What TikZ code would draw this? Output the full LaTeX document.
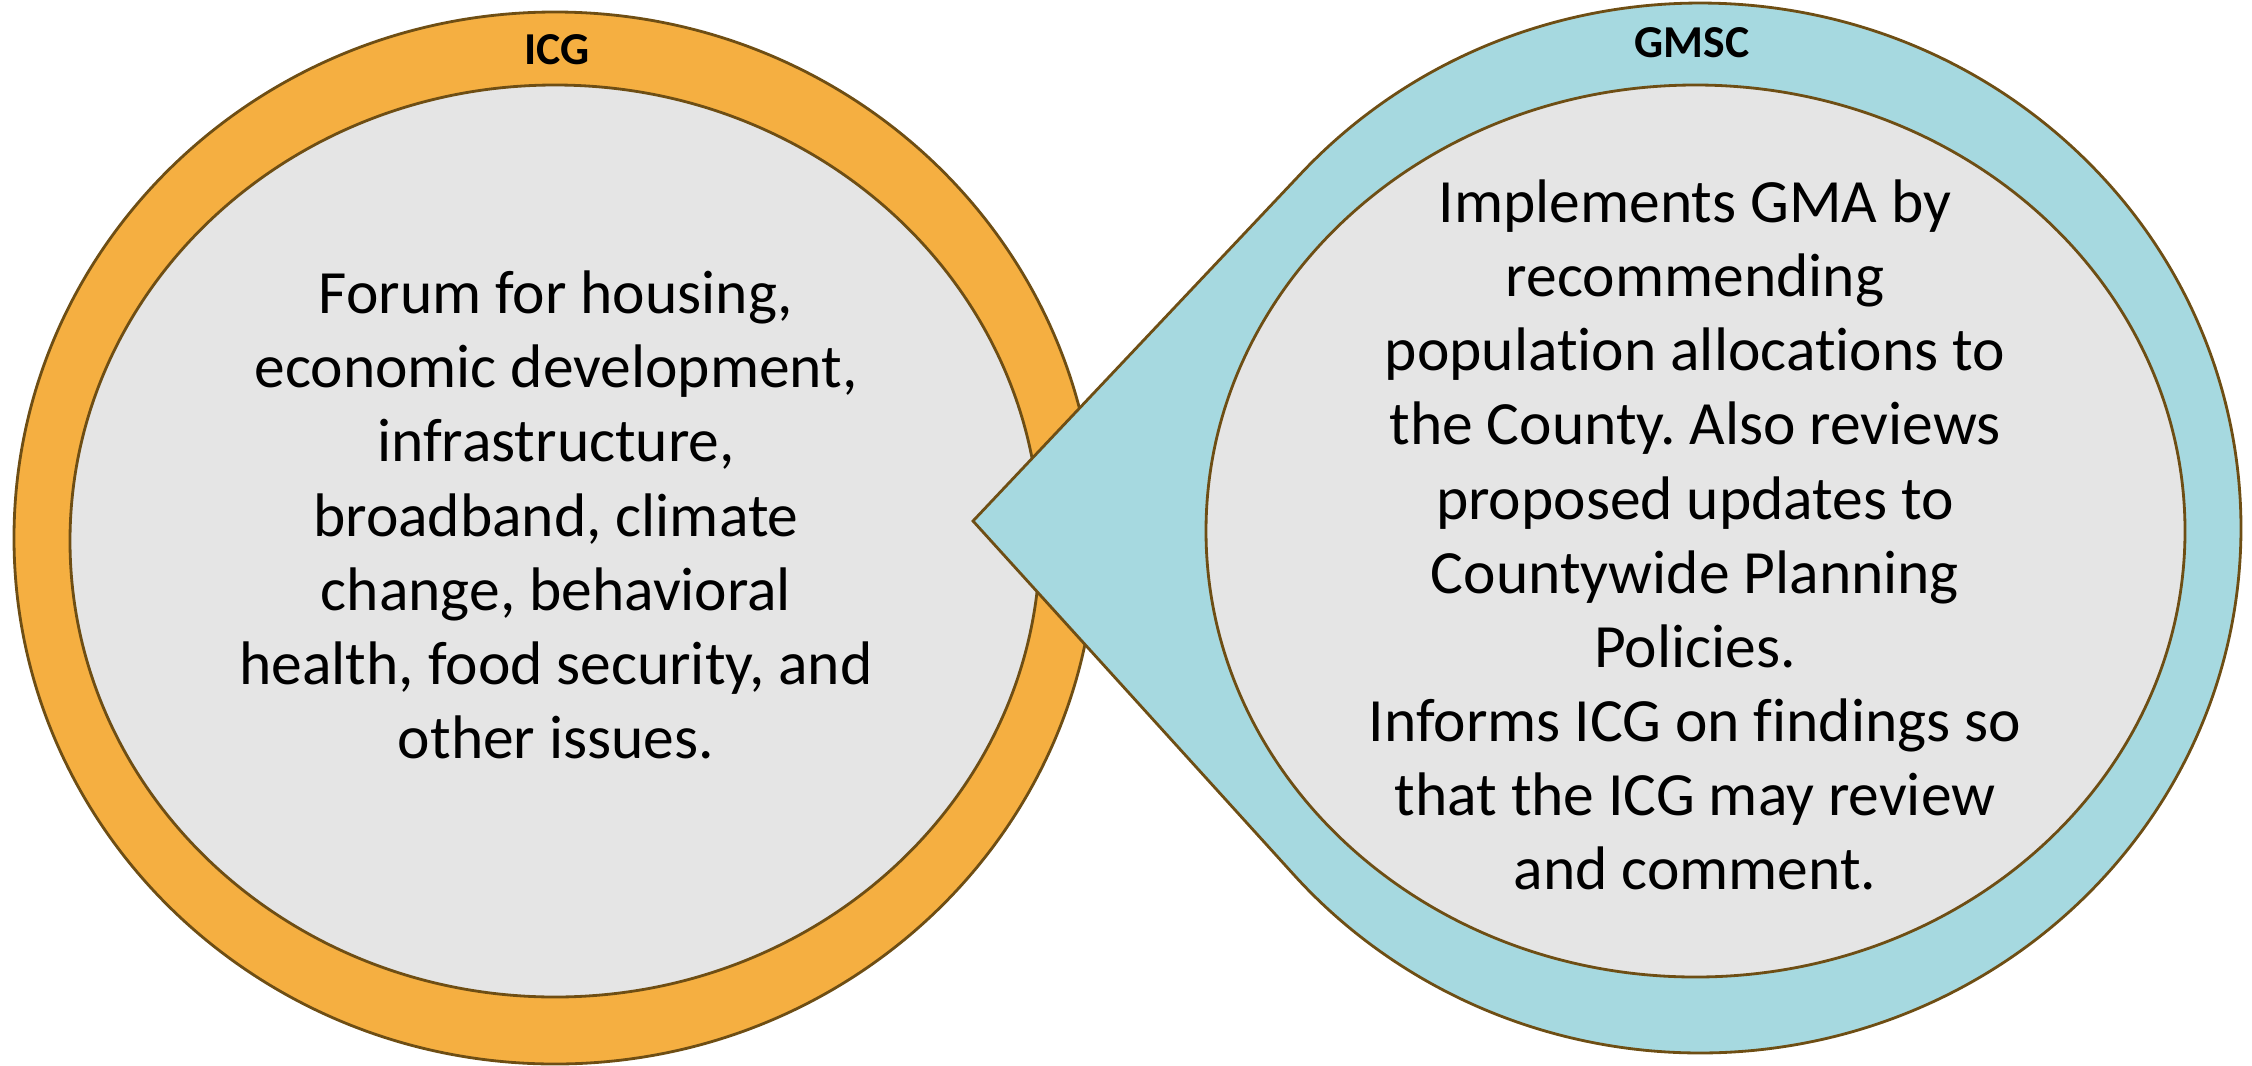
\documentclass[tikz,border=0pt]{standalone}
\usepackage{fontspec}
\setmainfont{Carlito}[Ligatures=NoCommon]
\usepackage{tikz}
\usetikzlibrary{positioning, calc}
\definecolor{icgcolor}{HTML}{F5AF41}
\definecolor{gmsccolor}{HTML}{A6D9E0}
\definecolor{corecolor}{HTML}{E5E5E5}
\definecolor{rimcolor}{HTML}{6E4E14}
\frenchspacing

\begin{document}
\begin{tikzpicture}[
  ring/.style={draw=rimcolor, line width=0.8pt},
  body/.style={align=center, inner sep=0pt,
               font=\fontsize{17.5pt}{21.1pt}\selectfont},
  title/.style={inner sep=0pt, font=\fontsize{13pt}{15pt}\selectfont\bfseries},
]
  \useasboundingbox (0, 0) rectangle (22.52, -10.65);

  % ICG
  \draw[ring, fill=icgcolor] (5.55, -5.38) ellipse [x radius=5.41, y radius=5.26];
  \draw[ring, fill=corecolor] (5.55, -5.41) ellipse [x radius=4.85, y radius=4.56];
  \node[title] (icg) at (5.57, -0.50) {ICG};
  \node[body] (icgtext) at (5.56, -5.15)
    {Forum for housing,\\ economic development,\\ infrastructure,\\
     broadband, climate\\ change, behavioral\\ health, food security, and\\
     other issues.};

  % GMSC callout, tangents from the tip at t = 137.51 and 221.35
  \draw[ring, fill=gmsccolor] (9.73, -5.21)
    -- ($(17.00, -5.28) + (137.51:5.41 and 5.25)$)
    arc[start angle=137.51, end angle=-138.65, x radius=5.41, y radius=5.25]
    -- cycle;
  \draw[ring, fill=corecolor] (16.955, -5.31) ellipse [x radius=4.895, y radius=4.46];
  \node[title] (gmsc) at (16.92, -0.43) {GMSC};
  \node[body] (gmsctext) at (16.95, -5.35)
    {Implements GMA by\\ recommending\\ population allocations to\\
     the County. Also reviews\\ proposed updates to\\ Countywide Planning\\
     Policies.\\ Informs ICG on findings so\\ that the ICG may review\\
     and comment.};
\end{tikzpicture}
\end{document}
